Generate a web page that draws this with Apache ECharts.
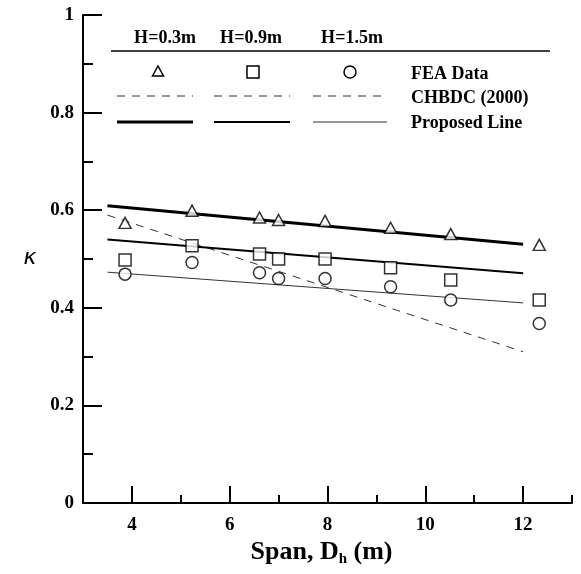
<!DOCTYPE html>
<html>
<head>
<meta charset="utf-8">
<script src="https://cdn.jsdelivr.net/npm/echarts@6/dist/echarts.min.js"></script>
<style>html,body{margin:0;padding:0;background:#fff}#c{width:581px;height:574px}</style>
</head>
<body>
<div id="c"></div>
<script>
// ---- data ----
const spans = [3.86, 5.23, 6.61, 7.0, 7.95, 9.29, 10.52, 12.33];
const feaH03 = [0.574, 0.599, 0.585, 0.580, 0.578, 0.564, 0.551, 0.529];
const feaH09 = [0.498, 0.527, 0.510, 0.500, 0.500, 0.482, 0.457, 0.416];
const feaH15 = [0.469, 0.493, 0.472, 0.460, 0.460, 0.443, 0.416, 0.368];
const lineX = [3.5, 12];
const chbdc = [0.590, 0.310];
const propH03 = [0.609, 0.530];
const propH09 = [0.540, 0.471];
const propH15 = [0.473, 0.410];
const heights = ['H=0.3m', 'H=0.9m', 'H=1.5m'];
const legendRows = ['FEA Data', 'CHBDC (2000)', 'Proposed Line'];

const pair = (xs, ys) => xs.map((x, i) => [x, ys[i]]);
const FONT = '"Liberation Serif", "Times New Roman", serif';

const chart = echarts.init(document.getElementById('c'), null, {renderer: 'canvas'});

const markerStyle = {color: '#fff', borderColor: '#000', borderWidth: 1.5};

// legend graphics (layout only)
const colX = [165, 251, 352];
const symX = [158, 253, 350];
const segs = [[117, 193], [214, 290], [313, 387]];
const propWidths = [3, 2, 1];
const propColors = ['#000', '#000', '#333'];
const graphic = [];
graphic.push({type: 'line', shape: {x1: 111, y1: 51, x2: 550, y2: 51}, style: {stroke: '#000', lineWidth: 1.5}});
heights.forEach((h, i) => {
  graphic.push({type: 'text', x: colX[i], y: 38, style: {text: h, font: 'bold 18px ' + FONT, fill: '#000', textAlign: 'center', textVerticalAlign: 'middle'}});
  graphic.push({type: 'line', shape: {x1: segs[i][0], y1: 96, x2: segs[i][1], y2: 96}, style: {stroke: '#333', lineWidth: 1, lineDash: [8, 7]}});
  graphic.push({type: 'line', shape: {x1: segs[i][0], y1: 122, x2: segs[i][1], y2: 122}, style: {stroke: propColors[i], lineWidth: propWidths[i]}});
});
graphic.push({type: 'polygon', shape: {points: [[symX[0], 66], [symX[0] - 5.5, 76], [symX[0] + 5.5, 76]]}, style: {fill: '#fff', stroke: '#000', lineWidth: 1.5}});
graphic.push({type: 'rect', shape: {x: symX[1] - 6, y: 66, width: 12, height: 12}, style: {fill: '#fff', stroke: '#000', lineWidth: 1.5}});
graphic.push({type: 'circle', shape: {cx: symX[2], cy: 72, r: 6}, style: {fill: '#fff', stroke: '#000', lineWidth: 1.5}});
legendRows.forEach((t, i) => {
  graphic.push({type: 'text', x: 411, y: [74, 98, 123][i], style: {text: t, font: 'bold 18px ' + FONT, fill: '#000', textAlign: 'left', textVerticalAlign: 'middle'}});
});
graphic.push({type: 'text', x: 30, y: 258, style: {text: 'κ', font: 'italic 22px "DejaVu Sans", sans-serif', fill: '#000', textAlign: 'center', textVerticalAlign: 'middle'}});

const option = {
  backgroundColor: '#fff',
  animation: false,
  graphic: graphic,
  grid: [
    {left: 83, right: 9, top: 15, bottom: 71, containLabel: false, outerBoundsMode: 'none'},
    {left: 131.9, right: 57.9, top: 15, bottom: 71, containLabel: false, outerBoundsMode: 'none'}
  ],
  xAxis: [
    {
      type: 'value', gridIndex: 0, min: 3, max: 13, interval: 1,
      axisLine: {show: true, lineStyle: {color: '#000', width: 2}},
      axisTick: {show: true, inside: true, length: 8, lineStyle: {color: '#000', width: 2}},
      axisLabel: {show: false},
      splitLine: {show: false},
      name: 'Span, D{sub|h} (m)',
      nameLocation: 'middle', nameGap: 35,
      nameTextStyle: {
        fontFamily: FONT, fontWeight: 'bold', fontSize: 26, color: '#000', padding: [0, 12, 0, 0],
        rich: {sub: {fontFamily: FONT, fontWeight: 'bold', fontSize: 15, color: '#000', verticalAlign: 'bottom', padding: [14, 0, 0, 0]}}
      }
    },
    {
      type: 'value', gridIndex: 1, min: 4, max: 12, interval: 2,
      axisLine: {show: false},
      axisTick: {show: true, inside: true, length: 17, lineStyle: {color: '#000', width: 2}},
      axisLabel: {show: true, margin: 13, fontFamily: FONT, fontWeight: 'bold', fontSize: 19, color: '#000'},
      splitLine: {show: false}
    }
  ],
  yAxis: [
    {
      type: 'value', gridIndex: 0, min: 0, max: 1, interval: 0.2,
      axisLine: {show: true, lineStyle: {color: '#000', width: 2}},
      axisTick: {show: true, inside: true, length: 19, lineStyle: {color: '#000', width: 2}},
      minorTick: {show: true, splitNumber: 2, length: 10, lineStyle: {color: '#000', width: 2}},
      axisLabel: {show: true, margin: 9, fontFamily: FONT, fontWeight: 'bold', fontSize: 19, color: '#000'},
      splitLine: {show: false}, minorSplitLine: {show: false}
    },
    {
      type: 'value', gridIndex: 1, min: 0, max: 1, show: false
    }
  ],
  series: [
    {name: 'CHBDC (2000)', type: 'line', xAxisIndex: 0, yAxisIndex: 0, data: pair(lineX, chbdc), symbol: 'none',
      lineStyle: {color: '#333', width: 1, type: [8, 7]}, z: 2},
    {name: 'Proposed H=0.3m', type: 'line', data: pair(lineX, propH03), symbol: 'none', lineStyle: {color: '#000', width: 3}, z: 3},
    {name: 'Proposed H=0.9m', type: 'line', data: pair(lineX, propH09), symbol: 'none', lineStyle: {color: '#000', width: 2}, z: 3},
    {name: 'Proposed H=1.5m', type: 'line', data: pair(lineX, propH15), symbol: 'none', lineStyle: {color: '#333', width: 1}, z: 3},
    {name: 'FEA H=0.3m', type: 'scatter', data: pair(spans, feaH03), symbol: 'triangle', symbolSize: [12, 11], itemStyle: markerStyle, z: 4},
    {name: 'FEA H=0.9m', type: 'scatter', data: pair(spans, feaH09), symbol: 'rect', symbolSize: 12, itemStyle: markerStyle, z: 4},
    {name: 'FEA H=1.5m', type: 'scatter', data: pair(spans, feaH15), symbol: 'circle', symbolSize: 12, itemStyle: markerStyle, z: 4}
  ]
};
chart.setOption(option);
</script>
</body>
</html>
